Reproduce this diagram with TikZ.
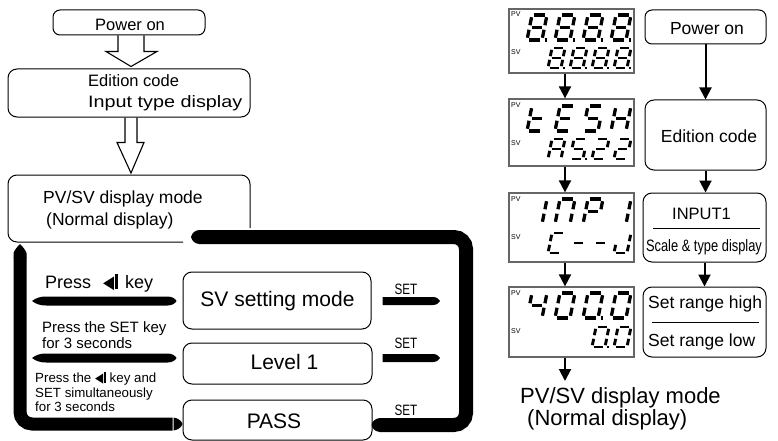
\documentclass[tikz,border=0pt]{standalone}
\usepackage{fontspec}
\usepackage{graphicx}
\setmainfont{Liberation Sans}
\newfontfamily\dejavu{DejaVu Sans}
\usetikzlibrary{arrows.meta,calc}
\newcommand\fsz[1]{\fontsize{#1}{#1}\selectfont}
\newcommand\keyico{{\dejavu\scalebox{0.8}[1]{\char"25C0}}\kern0.06em\rule[-0.04em]{0.15em}{0.8em}}
\tikzset{
 sg/a/.style={insert path={(0.14,1)--(0.86,1)}},
 sg/b/.style={insert path={(1,0.91)--(1,0.59)}},
 sg/c/.style={insert path={(1,0.41)--(1,0.09)}},
 sg/d/.style={insert path={(0.14,0)--(0.86,0)}},
 sg/e/.style={insert path={(0,0.09)--(0,0.41)}},
 sg/f/.style={insert path={(0,0.59)--(0,0.91)}},
 sg/g/.style={insert path={(0.14,0.5)--(0.86,0.5)}},
 sg/p/.style={insert path={(1.18,0)--(1.32,0)}},
}
% x, y (bottom-left), width, height, line width, segments
\newcommand\sdigit[6]{%
 \begin{scope}[shift={(#1,#2)},xslant=0.2,x=#3pt,y=#4pt]
  \foreach \s in {#6}{\edef\tmp{\noexpand\draw[line width=#5pt,line cap=butt,sg/\s];}\tmp}
 \end{scope}}
\newcommand\pvd[2]{\sdigit{#1}{#2}{15}{25}{3.3}}
\newcommand\svd[2]{\sdigit{#1}{#2}{13}{20}{2.9}}
\newcommand\lens[2]{\fill (#1) .. controls ($(#1)+(4,-3)$) and ($(#1)+(8,-4.5)$) .. ($(#1)+(14,-4.5)$) -- ($(#2)+(-9,-4.5)$) .. controls ($(#2)+(-4,-4.5)$) and ($(#2)+(-1,-2)$) .. (#2) .. controls ($(#2)+(-1,2)$) and ($(#2)+(-4,4.5)$) .. ($(#2)+(-9,4.5)$) -- ($(#1)+(14,4.5)$) .. controls ($(#1)+(8,4.5)$) and ($(#1)+(4,3)$) .. (#1) -- cycle;}
\newcommand\setarr[2]{\fill ($(#1)+(0,-4)$) -- ($(#2)+(-7,-4)$) .. controls ($(#2)+(-3,-4)$) and ($(#2)+(-1,-1.5)$) .. (#2) .. controls ($(#2)+(-1,1.5)$) and ($(#2)+(-3,4)$) .. ($(#2)+(-7,4)$) -- ($(#1)+(0,4)$) -- cycle;}
\begin{document}
\begin{tikzpicture}[x=1pt,y=-1pt,
 box/.style={draw,line width=1pt,rounded corners=7pt,inner sep=0pt},
 disp/.style={draw=black!60,line width=1.3pt,inner sep=0pt,minimum width=125pt},
 txt/.style={inner sep=0pt,anchor=base west},
 ctxt/.style={inner sep=0pt,anchor=base},
 hollow/.style={draw,line width=1.1pt,line join=miter},
 band/.style={line width=14pt,rounded corners=12pt},
 arr/.style={line width=2pt,-{Triangle[width=12pt,length=12pt]}}]
\useasboundingbox (0,0) rectangle (778,441);
\fill[white] (0,0) rectangle (778,441);

% ---------- left flow ----------
\node[box,minimum width=152pt,minimum height=25pt] (pon1) at (129,22.5) {};
\node[txt,font=\fsz{16.5}] (tpon1) at (95,31) {Power on};
\node[box,rounded corners=9pt,minimum width=242pt,minimum height=48pt] (ed1) at (129,93) {};
\node[txt,font=\fsz{16.5}] (ted1a) at (88,87) {Edition code};
\node[txt,font=\fsz{16.5}] (ted1b) at (88,107) {\scalebox{1.2}[1]{Input type display}};
\coordinate (pvtop) at (129,175);
\draw[line width=1pt,rounded corners=9pt] (250,228) -- (250,175) -- (8,175) -- (8,242) -- (183,242);
\node[txt,font=\fsz{17.5}] (tpv1a) at (43,203) {PV/SV display mode};
\node[txt,font=\fsz{17.5}] (tpv1b) at (46,225) {(Normal display)};

\draw[hollow] ($(pon1.south)+(-11,0)$) -- ($(pon1.south)+(-11,16)$) -- ($(pon1.south)+(-23,16)$) -- ($(ed1.north)+(2,-2)$) -- ($(pon1.south)+(28,16)$) -- ($(pon1.south)+(15,16)$) -- ($(pon1.south)+(15,0)$);
\draw[hollow] ($(ed1.south)+(-4,0)$) -- ($(ed1.south)+(-4,25)$) -- ($(ed1.south)+(-12,25)$) -- ($(pvtop)+(2,-2)$) -- ($(ed1.south)+(15,25)$) -- ($(ed1.south)+(8,25)$) -- ($(ed1.south)+(8,0)$);

\node[box,rounded corners=9pt,minimum width=188pt,minimum height=57pt] (sv) at (277,300.5) {};
\node[ctxt,font=\fsz{21}] (tsv) at (277.5,306) {SV setting mode};
\node[box,rounded corners=9pt,minimum width=189pt,minimum height=41pt] (lv) at (277.5,363.5) {};
\node[ctxt,font=\fsz{21}] (tlv) at (284.5,369) {Level 1};
\node[box,rounded corners=9pt,minimum width=189pt,minimum height=40pt] (pass) at (277.5,420) {};
\node[ctxt,font=\fsz{21}] (tpass) at (274,428) {PASS};

\node[txt,font=\fsz{18}] (k1) at (45,288) {Press\hspace{12pt}\keyico\hspace{7pt}key};
\node[txt,font=\fsz{15}] (k2a) at (42,332) {Press the SET key};
\node[txt,font=\fsz{15}] (k2b) at (42,348) {for 3 seconds};
\node[txt,font=\fsz{13.3}] (k3a) at (35,382) {Press the \keyico\ key and};
\node[txt,font=\fsz{13.3}] (k3b) at (35,397) {SET simultaneously};
\node[txt,font=\fsz{13.3}] (k3c) at (35,411) {for 3 seconds};

\node[ctxt,font=\fsz{15}] (s1) at (406,294) {\scalebox{0.78}[1]{SET}};
\node[ctxt,font=\fsz{15}] (s2) at (406,348) {\scalebox{0.78}[1]{SET}};
\node[ctxt,font=\fsz{15}] (s3) at (406,415) {\scalebox{0.78}[1]{SET}};

% small arrows
\coordinate (la1) at (32,301); \coordinate (lb1) at ($(sv.west)+(-6,0.5)$);
\coordinate (la2) at (32,358); \coordinate (lb2) at ($(lv.west)+(-6,-5.5)$);
\lens{la1}{lb1}
\lens{la2}{lb2}
\coordinate (sa1) at ($(sv.east)+(11,0.5)$); \coordinate (sb1) at (440,301);
\coordinate (sa2) at ($(lv.east)+(10,-5.5)$); \coordinate (sb2) at (440,358);
\setarr{sa1}{sb1}
\setarr{sa2}{sb2}

% thick loops
\coordinate (rc1) at (466,425); \coordinate (rc2) at (466,237); \coordinate (re) at (199,237);
\draw[band] ($(pass.east)+(7,5)$) -- (rc1) -- (rc2) -- (re);
\fill (380,418) .. controls (375,418.5) and (372,421.5) .. (371.5,425) .. controls (372,428.5) and (375,431.5) .. (380,432) -- cycle;
\fill (200,230) .. controls (195,230) and (192,233) .. (191,237) .. controls (192,241) and (195,244) .. (200,244) -- cycle;
\coordinate (lc1) at (20,424); \coordinate (lc2) at (20,257);
\draw[band,line width=13pt] ($(pass.west)+(-10,4)$) -- (lc1) -- (lc2);
\fill (173.5,417.5) .. controls (178,418) and (181.5,421) .. (182.5,424) .. controls (181.5,427) and (178,430) .. (173.5,430.5) -- cycle;
\fill (13.5,257.5) -- (13.5,253) .. controls (14.5,250) and (17,247) .. (20,244) .. controls (23,247) and (25.5,250) .. (26.5,253) -- (26.5,257.5) -- cycle;

% ---------- displays ----------
\node[disp,minimum height=64pt] (d1) at (571.5,41) {};
\node[disp,minimum height=67pt] (d2) at (571.5,132.5) {};
\node[disp,minimum height=69pt] (d3) at (571.5,227.5) {};
\node[disp,minimum height=70pt] (d4) at (571.5,322) {};
\foreach \yy/\nm in {9/d1p,99/d2p,193/d3p,287/d4p}{
 \node[txt,font=\fsz{7}] (\nm v) at (511,\yy+8) {PV};
 \node[txt,font=\fsz{7}] (\nm s) at (511,\yy+46) {SV};
}
% d1
\pvd{527}{40}{a,b,c,d,e,f,g,p}\pvd{555}{40}{a,b,c,d,e,f,g,p}\pvd{583}{40}{a,b,c,d,e,f,g,p}\pvd{611}{40}{a,b,c,d,e,f,g,p}
\svd{548}{68}{a,b,c,d,e,f,g,p}\svd{570}{68}{a,b,c,d,e,f,g,p}\svd{592}{68}{a,b,c,d,e,f,g,p}\svd{614}{68}{a,b,c,d,e,f,g,p}
% d2
\pvd{527}{131}{d,e,f,g}\pvd{555}{131}{a,d,e,f,g}\pvd{583}{131}{a,c,d,f,g}\pvd{611}{131}{b,c,e,f,g}
\svd{548}{159}{a,b,c,e,f,g}\svd{570}{159}{a,c,d,f,g,p}\svd{592}{159}{a,b,d,e,g}\svd{614}{159}{a,b,d,e,g}
% d3
\pvd{527}{224}{b,c}\pvd{555}{224}{a,b,c,e,f}\pvd{583}{224}{a,b,e,f,g}\pvd{611}{224}{b,c}
\svd{548}{253}{a,d,e,f}\svd{570}{253}{g}\svd{592}{253}{g}\svd{614}{253}{b,c,d,e}
% d4
\pvd{527}{318}{b,c,f,g}\pvd{555}{318}{a,b,c,d,e,f}\pvd{583}{318}{a,b,c,d,e,f,p}\pvd{611}{318}{a,b,c,d,e,f}
\svd{592}{347}{a,b,c,d,e,f,p}\svd{614}{347}{a,b,c,d,e,f}

\draw[arr] ($(d1.south)+(-6.5,0)$) -- ($(d2.north)+(-6.5,0)$);
\draw[arr] ($(d2.south)+(-6.5,0)$) -- ($(d3.north)+(-6.5,0)$);
\draw[arr] ($(d3.south)+(-6.5,0)$) -- ($(d4.north)+(-6.5,0)$);
\coordinate (dend) at (565,381);
\draw[arr] ($(d4.south)+(-6.5,0)$) -- (dend);
\node[txt,font=\fsz{22}] (rpv1) at (520,403) {PV/SV display mode};
\node[txt,font=\fsz{22}] (rpv2) at (527,425) {(Normal display)};

% ---------- right flow ----------
\node[box,minimum width=121pt,minimum height=34pt] (rpon) at (705.5,27) {};
\node[ctxt,font=\fsz{17.5}] (trpon) at (707,35) {Power on};
\node[box,rounded corners=9pt,minimum width=121pt,minimum height=70pt] (red) at (705.5,135) {};
\node[ctxt,font=\fsz{17.5}] (tred) at (709,142) {Edition code};
\node[box,rounded corners=9pt,minimum width=123pt,minimum height=69pt] (rin) at (704.5,227.5) {};
\node[ctxt,font=\fsz{16.5}] (trin) at (701.5,219) {INPUT1};
\coordinate (sep1a) at (653,228); \coordinate (sep1b) at (760,228);
\draw[line width=0.8pt] (sep1a) -- (sep1b);
\node[ctxt,font=\fsz{16.5}] (trin2) at (704,251) {\scalebox{0.78}[1]{Scale \& type display}};
\node[box,rounded corners=9pt,minimum width=123pt,minimum height=70pt] (rset) at (704.5,322) {};
\node[txt,font=\fsz{17.5}] (trs1) at (648,308) {Set range high};
\coordinate (sep2a) at (652,322); \coordinate (sep2b) at (759,322);
\draw[line width=0.8pt] (sep2a) -- (sep2b);
\node[txt,font=\fsz{17.5}] (trs2) at (648,346) {Set range low};
\draw[arr] (rpon) -- (red);
\draw[arr] (red.south) -- (red.south |- rin.north);
\draw[arr] (rin) -- (rset);
\end{tikzpicture}
\end{document}
